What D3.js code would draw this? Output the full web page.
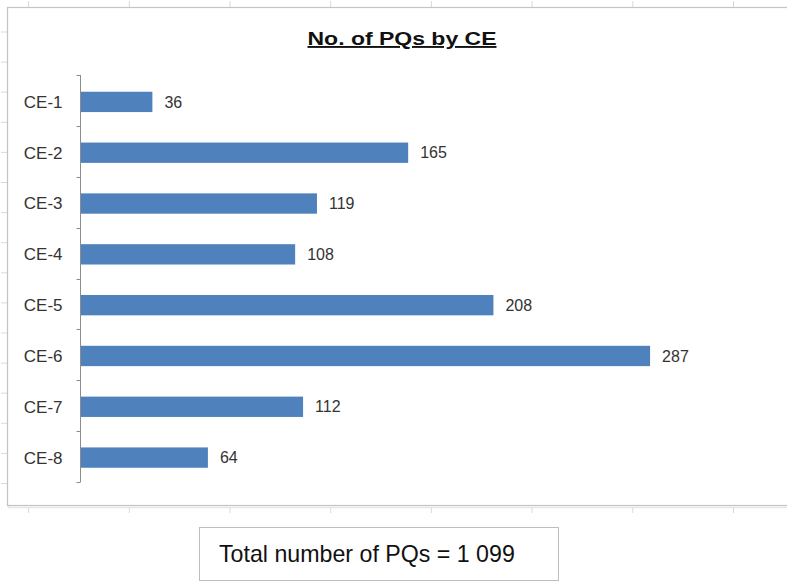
<!DOCTYPE html>
<html>
<head>
<meta charset="utf-8">
<script src="https://cdn.jsdelivr.net/npm/d3@7"></script>
<style>
  html, body { margin: 0; padding: 0; background: #fff; }
  svg { display: block; font-family: "Liberation Sans", Arial, sans-serif; }
</style>
</head>
<body>
<svg id="chart" width="787" height="581"></svg>
<script>
const categories = ["CE-1", "CE-2", "CE-3", "CE-4", "CE-5", "CE-6", "CE-7", "CE-8"];
const values = [36, 165, 119, 108, 208, 287, 112, 64];
const title = "No. of PQs by CE";
const totalText = "Total number of PQs = 1 099";

const svg = d3.select("#chart");

// sheet cell marks outside the chart frame
const colMarks = d3.range(8).map(i => 28.6 + i * 100.7);
const rowMarks = d3.range(16).map(i => 32 + i * 30.1);
const deco = svg.append("g").attr("stroke", "#d9d9d9").attr("stroke-width", 1);
deco.selectAll("line.top").data(colMarks).join("line")
  .attr("x1", d => d).attr("x2", d => d).attr("y1", 1).attr("y2", 7);
deco.selectAll("line.bot").data(colMarks).join("line")
  .attr("x1", d => d).attr("x2", d => d).attr("y1", 507).attr("y2", 513);
deco.selectAll("line.left").data(rowMarks).join("line")
  .attr("x1", 1).attr("x2", 7).attr("y1", d => d).attr("y2", d => d);

// chart frame (with soft shadow)
svg.append("rect").attr("x", 8.5).attr("y", 8.5).attr("width", 800).attr("height", 499)
  .attr("fill", "none").attr("stroke", "#e6e6e6").attr("stroke-width", 1.5);
svg.append("rect").attr("x", 7.5).attr("y", 7.5).attr("width", 800).attr("height", 498)
  .attr("fill", "#fff").attr("stroke", "#c4c4c4").attr("stroke-width", 1.2);

// title
svg.append("text").attr("x", 402).attr("y", 45).attr("text-anchor", "middle")
  .attr("font-size", 19).attr("font-weight", "bold").attr("fill", "#111")
  .attr("text-decoration", "underline")
  .attr("textLength", 189).attr("lengthAdjust", "spacingAndGlyphs")
  .text(title);

// scales
const y = d3.scaleBand().domain(categories).range([76.5, 483]).paddingInner(0.6).paddingOuter(0.3);
const x = d3.scaleLinear().domain([0, 350]).range([81, 775]);

// bars
svg.append("g").selectAll("rect").data(values).join("rect")
  .attr("x", x(0))
  .attr("y", (d, i) => y(categories[i]))
  .attr("width", d => x(d) - x(0))
  .attr("height", y.bandwidth())
  .attr("fill", "#4f81bd");

// value labels
svg.append("g").selectAll("text").data(values).join("text")
  .attr("x", d => x(d) + 12)
  .attr("y", (d, i) => y(categories[i]) + y.bandwidth() / 2)
  .attr("dy", "0.35em")
  .attr("font-size", 16).attr("fill", "#333")
  .text(d => d);

// category axis
const axisG = svg.append("g").attr("transform", "translate(80.5,0)");
axisG.append("line").attr("x1", 0).attr("x2", 0).attr("y1", 75).attr("y2", 482)
  .attr("stroke", "#8c8c8c");
const bounds = d3.range(categories.length + 1).map(i => 75 + i * (407 / categories.length));
axisG.selectAll("line.tick").data(bounds).join("line")
  .attr("x1", -4).attr("x2", 0).attr("y1", d => Math.round(d) + 0.5).attr("y2", d => Math.round(d) + 0.5)
  .attr("stroke", "#8c8c8c");
axisG.selectAll("text").data(categories).join("text")
  .attr("x", -18)
  .attr("y", d => y(d) + y.bandwidth() / 2)
  .attr("dy", "0.35em")
  .attr("text-anchor", "end")
  .attr("font-size", 17).attr("fill", "#333")
  .text(d => d);

// total box
svg.append("rect").attr("x", 199.5).attr("y", 527.5).attr("width", 359).attr("height", 53)
  .attr("fill", "#fff").attr("stroke", "#bdbdbd").attr("stroke-width", 1);
svg.append("text").attr("x", 219).attr("y", 562)
  .attr("font-size", 23.2).attr("fill", "#111")
  .text(totalText);
</script>
</body>
</html>
